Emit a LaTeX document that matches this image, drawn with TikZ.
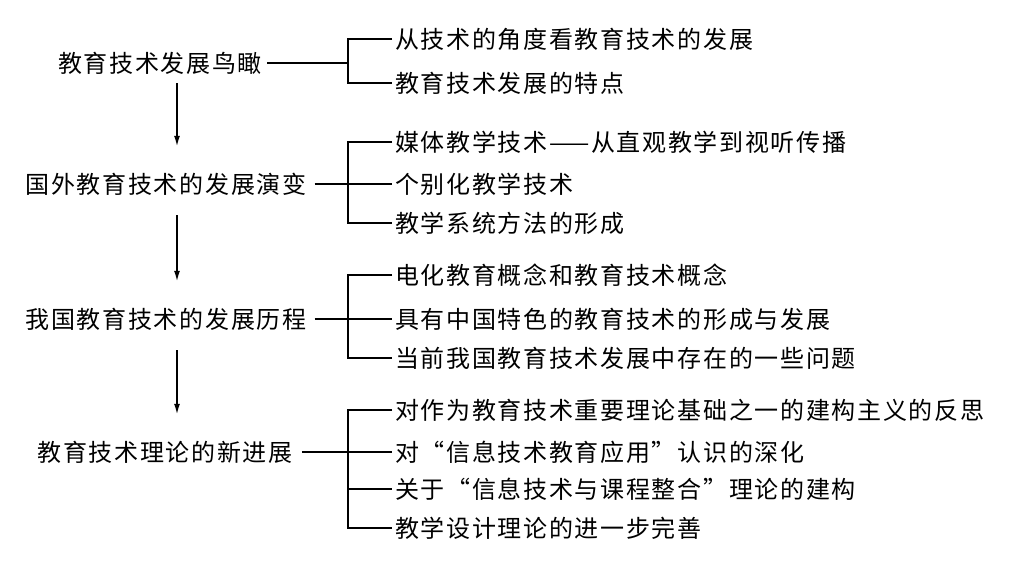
\documentclass[tikz,border=0pt]{standalone}
\usepackage{fontspec}
\setmainfont{Noto Sans CJK SC}[LetterSpace=7]
\usetikzlibrary{arrows.meta}

\begin{document}
\begin{tikzpicture}[x=1pt,y=-1pt,
    every node/.style={inner sep=0pt,text height=21pt,text depth=3pt,
      font=\fontsize{24}{26}\selectfont},
    item/.style={anchor=west},
    link/.style={line width=1.8pt},
    down/.style={line width=1.8pt,-{Latex[length=11pt,width=6pt]},
      shorten <=19pt,shorten >=25pt}]
  \useasboundingbox (0,0) rectangle (1024,563);
  \coordinate (axis) at (177,0);
  \coordinate (fork) at (348,0);
  % main column
  \node (lan) at (160,63) {教育技术发展鸟瞰};
  \node (guowai) at (166,184) {国外教育技术的发展演变};
  \node (woguo) at (166,319) {我国教育技术的发展历程};
  \node (lilun) at (165,452) {教育技术理论的新进展};
  \draw[down,shorten <=8pt] (lan.south -| axis) -- (guowai.north -| axis);
  \draw[down] (guowai.south -| axis) -- (woguo.north -| axis);
  \draw[down] (woguo.south -| axis) -- (lilun.north -| axis);
  % first bracket
  \node[item] (lan1) at (395,39) {从技术的角度看教育技术的发展};
  \node[item] (lan2) at (395,83) {教育技术发展的特点};
  \draw[link,shorten <=5pt] (lan.east) -- (lan.east -| fork);
  \draw[link,shorten <=3pt,shorten >=3pt] (lan1.west) -- (lan1.west -| fork)
    -- (lan2.west -| fork) -- (lan2.west);
  % second bracket
  \node[item] (guowai1) at (395,142) {媒体教学技术——从直观教学到视听传播};
  \node[item] (guowai2) at (395,184) {个别化教学技术};
  \node[item] (guowai3) at (395,223) {教学系统方法的形成};
  \draw[link,shorten <=8pt,shorten >=3pt] (guowai.east) -- (guowai2.west);
  \draw[link,shorten <=3pt,shorten >=3pt] (guowai1.west) -- (guowai1.west -| fork)
    -- (guowai3.west -| fork) -- (guowai3.west);
  % third bracket
  \node[item] (woguo1) at (395,275) {电化教育概念和教育技术概念};
  \node[item] (woguo2) at (395,319) {具有中国特色的教育技术的形成与发展};
  \node[item] (woguo3) at (395,358) {当前我国教育技术发展中存在的一些问题};
  \draw[link,shorten <=8pt,shorten >=3pt] (woguo.east) -- (woguo2.west);
  \draw[link,shorten <=3pt,shorten >=3pt] (woguo1.west) -- (woguo1.west -| fork)
    -- (woguo3.west -| fork) -- (woguo3.west);
  % fourth bracket
  \node[item] (lilun1) at (395,410) {对作为教育技术重要理论基础之一的建构主义的反思};
  \node[item] (lilun2) at (395,452) {对“信息技术教育应用”认识的深化};
  \node[item] (lilun3) at (395,489) {关于“信息技术与课程整合”理论的建构};
  \node[item] (lilun4) at (395,528) {教学设计理论的进一步完善};
  \draw[link,shorten <=9pt,shorten >=3pt] (lilun.east) -- (lilun2.west);
  \draw[link,shorten >=3pt] (lilun3.west -| fork) -- (lilun3.west);
  \draw[link,shorten <=3pt,shorten >=3pt] (lilun1.west) -- (lilun1.west -| fork)
    -- (lilun4.west -| fork) -- (lilun4.west);
\end{tikzpicture}
\end{document}
